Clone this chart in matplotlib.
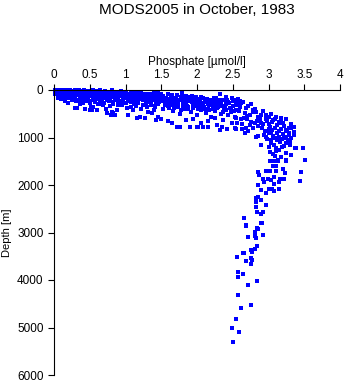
import matplotlib
matplotlib.use("Agg")
import matplotlib.pyplot as plt

plt.rcParams['font.family'] = ['Liberation Sans', 'DejaVu Sans']

title = "MODS2005 in October, 1983"
x_label = "Phosphate [\u00b5mol/l]"
y_label = "Depth [m]"
x_ticks = [0, 0.5, 1, 1.5, 2, 2.5, 3, 3.5, 4]
x_tick_labels = ["0", "0.5", "1", "1.5", "2", "2.5", "3", "3.5", "4"]
y_ticks = [0, 1000, 2000, 3000, 4000, 5000, 6000]
y_tick_labels = ["0", "1000", "2000", "3000", "4000", "5000", "6000"]

# Surface mixed layer (phosphate, depth)
surface_po4 = [0.01, 0.02, 0.03, 0.04, 0.05, 0.06, 0.07, 0.08, 0.09, 0.10, 0.11, 0.12, 0.13, 0.14,
               0.15, 0.16, 0.17, 0.18, 0.19, 0.20, 0.21, 0.22, 0.23, 0.24, 0.25, 0.26, 0.27, 0.28,
               0.29, 0.30, 0.31, 0.32, 0.33, 0.34, 0.35, 0.36, 0.37, 0.38, 0.39, 0.40, 0.41, 0.42,
               0.43, 0.44, 0.45, 0.46, 0.47, 0.48, 0.49, 0.50, 0.51, 0.52, 0.53, 0.54, 0.55, 0.56,
               0.57, 0.58, 0.59, 0.60, 0.62, 0.63, 0.64, 0.66, 0.67, 0.68, 0.70, 0.71, 0.72, 0.74,
               0.75, 0.76, 0.78, 0.79, 0.80, 0.82, 0.83, 0.84, 0.86, 0.87, 0.88, 0.90, 0.91, 0.93,
               0.94, 0.95, 0.97, 0.98, 1.00, 1.01, 1.03, 1.04, 1.05, 1.07, 1.08, 1.10, 1.11, 1.13,
               1.14, 1.16, 1.17, 1.19, 1.20, 1.22, 1.23, 1.25, 1.26, 1.28, 1.29, 1.31, 1.32, 1.34,
               1.35, 1.37, 1.38, 1.40, 1.41, 1.43, 1.44, 1.46, 1.47, 1.49, 1.50,
               0.02, 0.04, 0.06, 0.07, 0.09, 0.11, 0.12, 0.14, 0.17, 0.19, 0.21, 0.23, 0.26, 0.28,
               0.30, 0.33, 0.35, 0.37, 0.40, 0.42, 0.44, 0.47, 0.49, 0.52, 0.54, 0.57, 0.59, 0.61,
               0.63, 0.65, 0.67, 0.69, 0.72, 0.74, 0.77, 0.79, 0.81, 0.84, 0.86, 0.89, 0.92, 0.94,
               0.96, 0.99, 1.02, 1.05, 1.07, 1.09, 1.12, 1.15, 1.18, 1.21, 1.24, 1.27, 1.30, 1.33,
               1.36, 1.39, 1.42, 1.45, 1.48,
               0.05, 0.10, 0.18, 0.25, 0.31, 0.38, 0.45, 0.51, 0.58, 0.64, 0.70, 0.77, 0.83, 0.89,
               0.95, 1.01, 1.06, 1.12, 1.18, 1.24, 1.29, 1.35, 1.41, 1.47]
surface_depth = [10, 40, 70, 20, 100, 50, 0, 80, 30, 120, 60, 15, 90, 40,
                 140, 5, 70, 110, 25, 55, 160, 85, 10, 130, 45, 100, 180, 20,
                 70, 150, 35, 110, 200, 60, 5, 140, 90, 30, 170, 50, 120, 220,
                 15, 80, 160, 40, 110, 190, 65, 240, 20, 135, 90, 175, 45, 210,
                 110, 60, 150, 25, 195, 80, 130, 50, 230, 100, 165, 30, 120, 200,
                 70, 145, 40, 180, 95, 250, 60, 140, 110, 210, 35, 170, 80, 130,
                 230, 55, 190, 100, 150, 45, 210, 120, 75, 260, 170, 95, 40, 200,
                 140, 70, 240, 110, 180, 60, 150, 220, 90, 270, 130, 190, 75, 160,
                 240, 110, 200, 60, 150, 280, 100, 180, 230, 130, 80,
                 90, 60, 130, 30, 110, 0, 75, 100, 45, 120, 10, 60, 25, 95,
                 0, 75, 110, 45, 85, 10, 120, 60, 30, 100, 5, 70, 120, 40,
                 100, 10, 140, 65, 20, 110, 55, 130, 10, 90, 160, 60, 110, 20,
                 140, 70, 170, 110, 50, 140, 90, 190, 70, 130, 100, 170, 110, 210,
                 80, 130, 190, 70, 160,
                 160, 190, 150, 210, 240, 260, 230, 280, 250, 300, 270, 230, 290, 260,
                 310, 280, 240, 300, 270, 320, 250, 290, 330, 260]

# Upper thermocline, scattered below the mixed layer
thermo_po4 = [0.29, 0.43, 0.53, 0.60, 0.55, 0.69, 0.73, 0.74, 0.81, 0.85, 0.88, 1.04, 1.11, 1.16,
              1.20, 1.27, 1.32, 0.90, 0.97, 1.07, 1.25, 0.41, 0.65, 0.83, 0.80, 0.50, 0.32, 0.52,
              0.20, 0.15, 0.36, 0.62, 0.78, 0.95, 1.02, 1.15, 1.22, 1.30, 1.37, 1.43, 1.46, 1.50,
              1.40, 1.35,
              1.52, 1.54, 1.55, 1.57, 1.58, 1.60, 1.61, 1.63, 1.64, 1.66, 1.67, 1.69, 1.70, 1.72,
              1.73, 1.75, 1.76, 1.78, 1.79, 1.80, 1.82, 1.83, 1.85, 1.86, 1.88, 1.89, 1.91, 1.92,
              1.94, 1.95, 1.97, 1.98, 2.00, 2.01, 2.03, 2.04, 2.06, 2.07, 2.09, 2.10, 2.12, 2.13,
              2.15, 2.16, 2.18, 2.20, 2.21, 2.23, 2.25, 2.26, 2.28, 2.30, 2.32, 2.33, 2.35, 2.37,
              2.38, 2.40, 2.41, 2.43, 2.44, 2.46, 2.48, 2.49, 2.51, 2.53, 2.54, 2.56, 2.58, 2.60,
              2.62,
              1.65, 1.72, 1.76, 1.90, 2.02, 2.09, 2.16, 2.28, 2.35, 2.32, 2.42, 2.49, 2.55, 2.63,
              2.25, 2.37, 2.54, 2.41, 2.54, 2.00, 1.60, 1.85, 2.05, 1.95, 2.15,
              1.28, 1.31, 1.36, 1.41, 1.45, 1.53, 1.59, 1.62, 1.68, 1.71, 1.77, 1.81, 1.87, 1.93,
              1.99, 2.05, 2.11, 2.17, 2.22, 2.27,
              1.51, 1.53, 1.56, 1.59, 1.62, 1.65, 1.68, 1.71, 1.74, 1.77, 1.81, 1.84, 1.87, 1.90,
              1.93, 1.96, 1.99, 2.02, 2.05, 2.08, 2.11, 2.14, 2.17, 2.19, 2.22, 2.24, 2.27, 2.29,
              2.31, 2.34, 2.36, 2.39, 2.42, 2.45, 2.47, 2.50, 2.52, 2.55, 2.57, 2.59]
thermo_depth = [386, 400, 421, 421, 351, 316, 400, 491, 456, 526, 421, 526, 421, 596,
                561, 596, 456, 316, 281, 351, 316, 281, 245, 491, 526, 421, 386, 360,
                270, 230, 300, 290, 330, 300, 380, 330, 400, 360, 491, 631, 561, 617,
                420, 320,
                120, 200, 310, 160, 250, 90, 380, 210, 140, 300, 450, 180, 260, 110,
                350, 220, 500, 150, 70, 290, 400, 200, 130, 330, 240, 140, 460, 180,
                300, 380, 220, 150, 520, 260, 340, 190, 420, 280, 160, 350, 230, 480,
                300, 390, 200, 560, 320, 250, 440, 170, 380, 290, 91, 500, 340, 220,
                410, 140, 300, 520, 250, 380, 460, 175, 330, 560, 270, 225, 420, 350,
                281,
                688, 772, 772, 772, 772, 786, 772, 737, 772, 842, 821, 702, 814, 821,
                596, 631, 596, 421, 421, 772, 650, 640, 700, 600, 650,
                300, 260, 220, 350, 290, 400, 330, 260, 380, 300, 420, 350, 410, 250,
                330, 270, 390, 320, 400, 330,
                230, 150, 270, 190, 320, 110, 240, 170, 280, 200, 130, 260, 350, 190,
                120, 280, 210, 400, 150, 330, 260, 190, 430, 250, 310, 170, 260, 360,
                210, 290, 460, 330, 200, 270, 390, 240, 450, 310, 180, 260]

# Phosphate maximum, 200-1500 m
inter_po4 = [2.55, 2.60, 2.62, 2.72, 2.81, 2.79, 2.56, 2.59, 2.67, 2.74, 2.90, 3.03, 2.61, 2.88,
             2.96, 3.09, 3.17, 2.56, 2.63, 2.81, 2.92, 3.00, 3.15, 3.20, 3.31, 2.53, 2.69, 2.78,
             2.91, 3.00, 3.09, 3.18, 3.35, 2.67, 2.72, 2.95, 3.03, 3.15, 3.29, 2.86, 2.97, 3.06,
             3.15, 3.24, 3.35, 2.83, 3.03, 3.12, 3.19, 3.30, 2.90, 3.00, 3.07, 3.19, 3.37, 3.48,
             3.02, 3.10, 3.25, 3.32, 3.09, 3.02, 3.13, 3.24, 3.51,
             2.98, 3.05, 3.12, 3.22, 3.28, 3.05, 3.12, 3.20, 3.26, 3.32, 3.08, 3.16, 3.24, 3.10,
             3.14, 3.04, 3.27, 3.22, 2.98, 3.18, 3.25, 3.10, 2.85, 2.70, 2.76, 2.85, 3.35, 3.30,
             2.94, 3.06, 3.17, 3.13, 3.00, 3.21, 3.32, 3.35, 3.39, 3.48, 3.32,
             2.58, 2.64, 2.68, 2.75, 2.83, 2.70, 2.78, 2.87, 2.93, 3.00, 2.84, 2.96, 3.06, 3.14,
             2.66, 2.74, 2.89, 3.02, 3.24, 3.28]
inter_depth = [204, 230, 281, 337, 400, 420, 421, 440, 491, 526, 526, 505, 617, 617,
               617, 610, 596, 702, 716, 702, 720, 716, 702, 702, 709, 793, 807, 793,
               807, 820, 807, 828, 786, 898, 870, 870, 884, 870, 912, 968, 982, 961,
               982, 982, 947, 989, 1053, 1053, 1040, 1067, 1158, 1193, 1158, 1193, 1214, 1228,
               1298, 1284, 1333, 1368, 1389, 1488, 1474, 1474, 1474,
               650, 680, 740, 760, 800, 840, 900, 930, 860, 1000, 1010, 1100, 1120, 1220,
               1260, 1120, 1060, 1180, 1040, 650, 620, 560, 560, 600, 680, 760, 880, 1150,
               940, 1340, 1420, 1000, 900, 1020, 793, 898, 1228, 1228, 1368,
               300, 260, 380, 290, 470, 550, 460, 580, 450, 560, 650, 520, 640, 680,
               590, 740, 700, 780, 850, 950]

# Deep water below 1500 m
deep_po4 = [3.07, 3.13, 3.24, 3.06, 3.11, 3.20, 2.97, 3.02, 3.11, 3.23, 3.45, 2.86, 2.87, 3.08,
            2.93, 2.99, 3.03, 3.16, 3.21, 3.44, 2.94, 3.08, 3.14, 2.86, 2.90, 3.01, 3.05, 3.14,
            3.07, 2.97, 2.82, 2.86, 2.89, 2.83, 2.96, 2.83, 2.84, 2.93, 2.89, 2.66, 2.89, 2.69,
            2.84, 2.81, 2.93, 2.71, 2.83, 2.91, 2.68, 2.86, 2.81, 2.84, 2.81, 2.75, 2.77, 2.64,
            2.66, 2.56, 2.76, 2.77, 2.69, 2.75, 2.65, 2.58, 2.58, 2.84, 2.72, 2.58, 2.75, 2.62,
            2.54, 2.49, 2.59, 2.51]
deep_depth = [1495, 1500, 1502, 1607, 1607, 1656, 1712, 1712, 1712, 1740, 1733, 1733, 1796, 1838,
              1866, 1866, 1902, 1874, 1874, 1923, 1944, 1979, 1944, 2007, 2105, 2091, 2091, 2091,
              2133, 2168, 2281, 2260, 2323, 2358, 2414, 2456, 2575, 2575, 2618, 2688, 2800, 2870,
              2912, 2996, 3046, 3102, 3123, 2807, 2842, 2935, 3074, 3284, 3354, 3375, 3417, 3439,
              3439, 3522, 3537, 3579, 3606, 3670, 3880, 3838, 3937, 4028, 4112, 4323, 4526, 4596,
              4814, 5017, 5102, 5312]

fig = plt.figure(figsize=(3.45, 3.84), dpi=100)
ax = fig.add_axes([54 / 345, 1 - 375 / 384, 286 / 345, 285 / 384])

for po4, depth in [(surface_po4, surface_depth), (thermo_po4, thermo_depth),
                   (inter_po4, inter_depth), (deep_po4, deep_depth)]:
    ax.scatter(po4, depth, s=6.5, marker='s', color='#0000ff', linewidths=0, clip_on=False)

ax.set_xlim(0, 4)
ax.set_ylim(6000, 0)
ax.xaxis.tick_top()
ax.xaxis.set_label_position('top')
ax.set_xticks(x_ticks)
ax.set_xticklabels(x_tick_labels)
ax.set_yticks(y_ticks)
ax.set_yticklabels(y_tick_labels)
ax.tick_params(axis='both', direction='out', length=4, width=0.8, labelsize=8.5, colors='black')
ax.tick_params(axis='x', pad=2.5)
ax.tick_params(axis='y', pad=3.5)
for side in ['right', 'bottom']:
    ax.spines[side].set_visible(False)
for side in ['left', 'top']:
    ax.spines[side].set_linewidth(0.8)

ax.set_xlabel(x_label, fontsize=8.5, labelpad=3)
ax.set_ylabel(y_label, fontsize=8, labelpad=4)

fig.text(197 / 345, 1 - 10 / 384, title, ha='center', va='center', fontsize=11)

fig.savefig("out.png", dpi=100)
